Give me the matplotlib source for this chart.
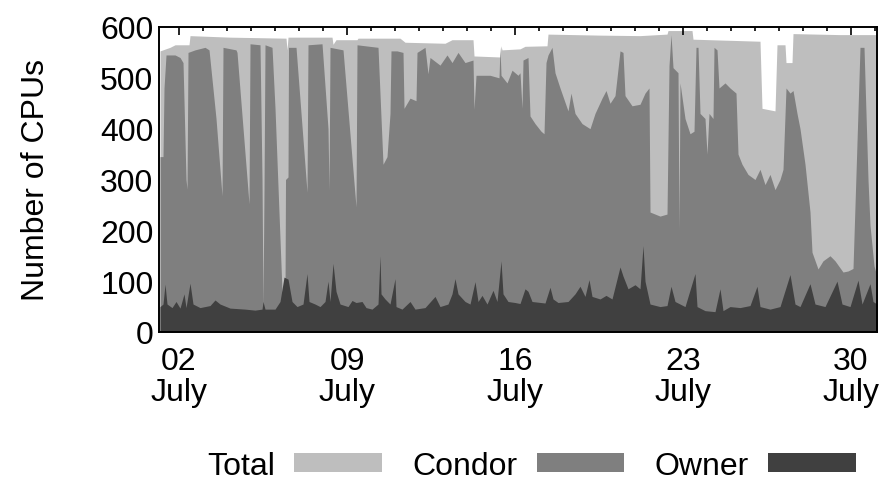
import matplotlib
matplotlib.use("Agg")
import matplotlib.pyplot as plt

### Data (hours since 01 July 00:00)
total_t = [5, 15, 20, 34, 35, 75, 131, 132, 133, 177, 178, 181, 202, 203, 245, 250, 290, 297,
           318, 319, 345, 346, 347, 365, 370, 392, 393, 445, 485, 512, 513, 537, 538, 605,
           607, 620, 622, 630, 631, 637, 638, 685, 722]
total_v = [553, 560, 565, 565, 583, 580, 578, 555, 580, 580, 566, 575, 575, 578, 578, 570, 568, 575,
           575, 543, 541, 563, 555, 557, 562, 563, 586, 584, 583, 586, 593, 593, 576, 572,
           440, 435, 565, 565, 530, 530, 587, 585, 585]

busy_t = [5, 8, 9, 11, 20, 25, 28, 31, 32, 33, 40, 50, 54, 61, 67, 68, 81, 82, 94, 95,
          105, 107, 108, 109, 110, 117, 120, 127, 130, 130.5, 133, 133.5, 141, 152, 153,
          167, 173, 174, 175, 188, 201, 202, 223, 228, 232, 235, 236, 242, 248, 249, 255,
          261, 262, 270, 273, 275, 285, 292, 297, 303, 310, 318, 319, 321, 335, 344, 345,
          346, 352, 357, 363, 365, 367, 368, 373, 375, 380, 386, 389, 391, 393, 397, 400,
          405, 413, 416, 420, 427, 435, 440, 447, 451, 455, 460, 465, 468, 470, 477, 485,
          490, 494, 495, 505, 512, 514, 516, 518, 523, 524, 525, 530, 535, 539, 541, 543,
          545, 550, 552, 554, 558, 559, 562, 564, 570, 575, 581, 583, 587, 593, 600, 605,
          610, 615, 620, 625, 628, 631, 635, 638, 642, 645, 650, 655, 657, 663, 668, 675,
          680, 688, 693, 698, 705, 709, 713, 715, 719, 722]
busy_v = [345, 345, 480, 545, 545, 540, 530, 300, 281, 550, 555, 560, 555, 420, 268, 560, 555, 550, 252, 567,
          565, 300, 50, 280, 565, 560, 440, 80, 80, 300, 305, 560, 560, 275, 565,
          567, 400, 278, 560, 555, 246, 565, 560, 330, 345, 430, 553, 553, 550, 440, 460,
          455, 550, 560, 508, 540, 525, 545, 530, 550, 530, 535, 438, 505, 505, 500, 560,
          505, 490, 515, 505, 510, 440, 535, 540, 425, 410, 395, 390, 530, 545, 560, 510,
          480, 435, 470, 430, 410, 400, 430, 460, 475, 450, 465, 553, 550, 465, 445, 448,
          470, 480, 236, 228, 232, 524, 585, 520, 510, 200, 490, 420, 390, 395, 560, 560,
          430, 420, 350, 430, 420, 560, 555, 480, 490, 480, 470, 350, 330, 310, 300, 320,
          290, 310, 280, 300, 320, 480, 470, 475, 430, 400, 330, 236, 157, 124, 140, 150,
          140, 118, 120, 125, 560, 560, 300, 210, 130, 110]

owner_t = [5, 8, 10, 12, 17, 21, 25, 29, 31, 35, 38, 45, 55, 60, 65, 75, 90, 100, 107, 108,
           110, 120, 125, 129, 133, 137, 142, 148, 152, 154, 160, 165, 170, 173, 175, 178,
           181, 185, 193, 197, 201, 207, 211, 217, 223, 225, 226, 230, 235, 240, 241, 247,
           255, 260, 270, 280, 285, 293, 297, 300, 303, 310, 315, 320, 323, 327, 332, 338,
           342, 346, 348, 353, 360, 365, 370, 373, 377, 390, 395, 398, 403, 413, 420, 425,
           430, 434, 437, 445, 451, 457, 465, 468, 473, 480, 485, 488, 490, 495, 505, 512,
           516, 520, 530, 540, 542, 550, 560, 565, 568, 575, 585, 595, 602, 605, 615, 625,
           635, 640, 645, 655, 660, 670, 682, 687, 695, 703, 707, 715, 718, 722]
owner_v = [50, 55, 94, 55, 48, 60, 47, 75, 48, 96, 55, 48, 52, 63, 55, 47, 45, 43, 45, 60,
           45, 45, 60, 108, 104, 60, 50, 55, 115, 60, 55, 50, 60, 100, 60, 135,
           80, 55, 50, 62, 58, 60, 48, 45, 55, 150, 75, 65, 55, 105, 50, 45,
           60, 45, 48, 70, 50, 55, 75, 105, 75, 60, 55, 99, 60, 72, 55, 82,
           60, 140, 75, 60, 58, 56, 85, 80, 60, 57, 88, 65, 58, 60, 75, 90,
           70, 103, 70, 65, 72, 65, 128, 110, 85, 93, 85, 170, 100, 55, 50, 52,
           90, 60, 50, 115, 50, 42, 40, 85, 42, 50, 48, 52, 90, 50, 45, 50,
           113, 55, 50, 95, 55, 50, 100, 55, 50, 102, 55, 95, 60, 55]

tick_hours = [24, 192, 360, 528, 696]
tick_labels = ["02\nJuly", "09\nJuly", "16\nJuly", "23\nJuly", "30\nJuly"]

### Style
plt.rcParams['font.family'] = ['Liberation Sans', 'DejaVu Sans']
fs = 23

fig = plt.figure(figsize=(8.8, 4.81), dpi=100)
ax = fig.add_axes([0.1807, 0.3077, 0.8159, 0.6341])

ax.fill_between(total_t, 0, total_v, color='#bebebe', lw=0, label='Total', zorder=1)
ax.fill_between(busy_t, 0, busy_v, color='#7f7f7f', lw=0, label='Condor', zorder=2)
ax.fill_between(owner_t, 0, owner_v, color='#404040', lw=0, label='Owner', zorder=3)

ax.set_xlim(4, 722)
ax.set_ylim(0, 600)
ax.set_yticks(range(0, 601, 100))
ax.set_xticks(tick_hours)
ax.set_xticklabels(tick_labels, linespacing=1.05)
ax.set_xticks(range(24, 722, 24), minor=True)

ax.tick_params(axis='y', length=0, pad=4, labelsize=fs)
ax.tick_params(axis='x', which='both', direction='in', top=True, bottom=False,
               labelbottom=True, labelsize=fs, pad=10, width=1.2, color='k')
ax.tick_params(axis='x', which='major', length=5.5)
ax.tick_params(axis='x', which='minor', length=3)
for s in ax.spines.values():
    s.set_linewidth(1.4)
    s.set_zorder(5)

ax.set_ylabel("Number of CPUs", fontsize=fs)
ax.yaxis.set_label_coords(-0.15, 0.5)

ax.legend(loc='center', bbox_to_anchor=(0.604, 0.029), bbox_transform=fig.transFigure,
          ncol=3, frameon=False, markerfirst=False, fontsize=fs, handlelength=2.75,
          handleheight=0.54, handletextpad=0.6, columnspacing=0.95, borderpad=0)

fig.savefig("out.png", dpi=100)
